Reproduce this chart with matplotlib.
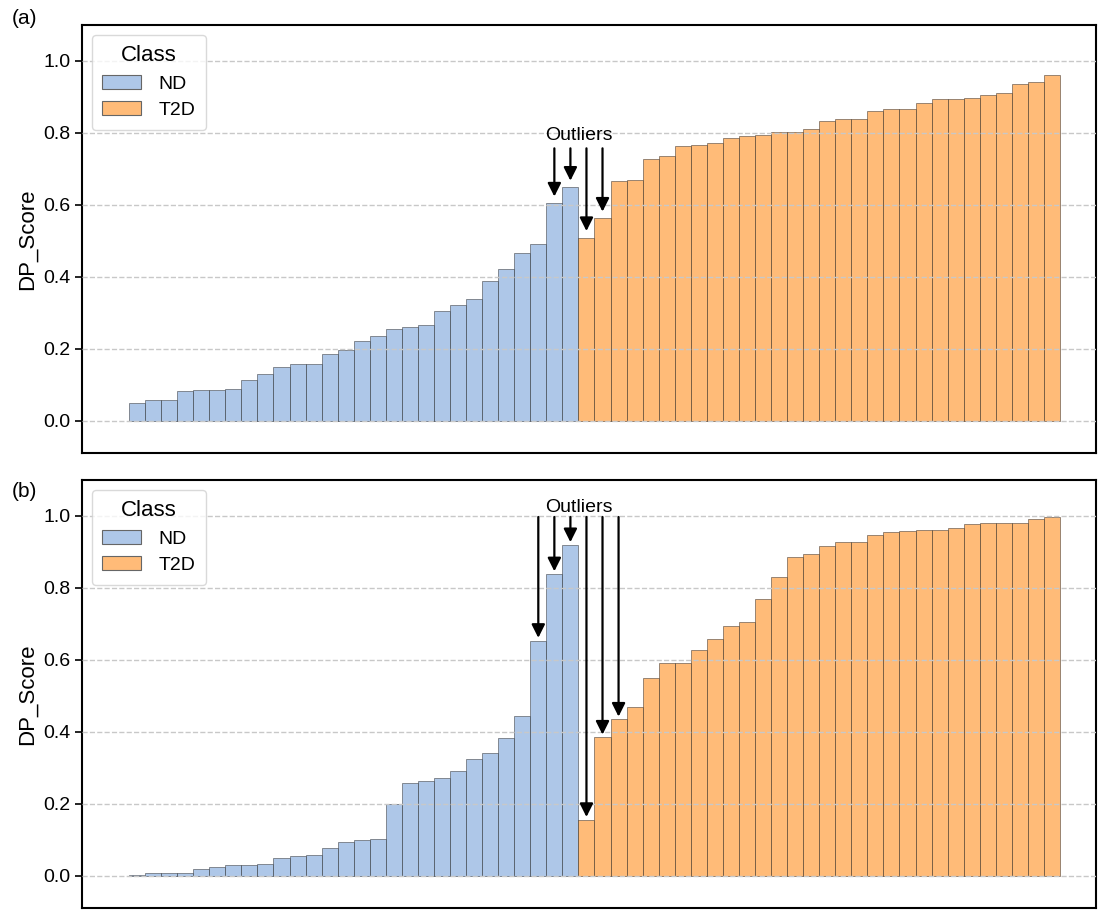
import numpy as np
import matplotlib
matplotlib.use("Agg")
import matplotlib.pyplot as plt
from matplotlib.patches import Patch

plt.rcParams["font.family"] = ["Liberation Sans", "DejaVu Sans"]

# sorted DP scores per class, panel (a)
nd_a = [0.049, 0.058, 0.058, 0.083, 0.085, 0.086, 0.088, 0.113, 0.130, 0.150,
        0.158, 0.158, 0.184, 0.195, 0.220, 0.236, 0.254, 0.260, 0.265, 0.306,
        0.322, 0.338, 0.389, 0.421, 0.467, 0.490, 0.605, 0.649]
t2d_a = [0.509, 0.563, 0.666, 0.669, 0.728, 0.735, 0.763, 0.766, 0.771, 0.786,
         0.790, 0.795, 0.801, 0.802, 0.810, 0.833, 0.838, 0.839, 0.862, 0.865,
         0.865, 0.883, 0.895, 0.895, 0.898, 0.905, 0.912, 0.936, 0.942, 0.962]

# panel (b)
nd_b = [0.002, 0.0075, 0.0075, 0.006, 0.019, 0.023, 0.029, 0.029, 0.033, 0.050,
        0.055, 0.058, 0.077, 0.093, 0.099, 0.102, 0.199, 0.258, 0.264, 0.272,
        0.292, 0.324, 0.341, 0.382, 0.443, 0.653, 0.838, 0.919]
t2d_b = [0.155, 0.384, 0.434, 0.470, 0.550, 0.590, 0.592, 0.626, 0.659, 0.694,
         0.704, 0.770, 0.830, 0.886, 0.893, 0.917, 0.928, 0.928, 0.946, 0.955,
         0.959, 0.962, 0.962, 0.967, 0.977, 0.980, 0.980, 0.981, 0.991, 0.996]

# indices of flagged samples (position in the combined sorted order)
outliers_a = [26, 27, 28, 29]
outliers_b = [25, 26, 27, 28, 29, 30]

classes = ["ND", "T2D"]
colors = {"ND": "#aec7e8", "T2D": "#ffbb78"}


def draw_panel(ax, nd, t2d, outliers, arrow_top, tip_gap, text_y):
    scores = np.array(nd + t2d)
    labels = ["ND"] * len(nd) + ["T2D"] * len(t2d)
    x = np.arange(len(scores))
    ax.bar(x, scores, width=1.0, color=[colors[c] for c in labels],
           edgecolor=(0, 0, 0, 0.7), linewidth=0.4, zorder=1)

    for i in outliers:
        ax.annotate("", xy=(x[i], scores[i] + tip_gap), xytext=(x[i], arrow_top),
                    arrowprops=dict(arrowstyle="-|>", color="black", lw=1.6,
                                    mutation_scale=20, shrinkA=0, shrinkB=0))
    xc = (x[outliers[0]] + x[outliers[-1]]) / 2
    ax.text(xc, text_y, "Outliers", ha="center", va="bottom", fontsize=14)

    ax.set_xlim(-3.43, len(scores) + 1.74)
    ax.set_ylim(-0.09, 1.1)
    ax.set_yticks([0.0, 0.2, 0.4, 0.6, 0.8, 1.0])
    ax.set_xticks([])
    ax.tick_params(axis="y", labelsize=14, length=5, width=1.2)
    ax.set_ylabel("DP_Score", fontsize=16)
    ax.yaxis.grid(True, linestyle="--", color="#c8c8c8", lw=1.0)
    ax.set_axisbelow(False)
    for sp in ax.spines.values():
        sp.set_linewidth(1.5)

    handles = [Patch(facecolor=colors[c], edgecolor="0.4", linewidth=0.8) for c in classes]
    leg = ax.legend(handles, classes, title="Class", loc="upper left",
                    fontsize=14, title_fontsize=16, handlelength=2.0,
                    borderpad=0.55, labelspacing=0.45, handletextpad=0.9)
    leg.get_frame().set_edgecolor("#d0d0d0")


fig = plt.figure(figsize=(11.03, 9.14), dpi=100)
ax_a = fig.add_axes([0.0743, 0.5044, 0.9193, 0.4683])
ax_b = fig.add_axes([0.0743, 0.0066, 0.9193, 0.4683])

draw_panel(ax_a, nd_a, t2d_a, outliers_a, arrow_top=0.757, tip_gap=0.018, text_y=0.77)
draw_panel(ax_b, nd_b, t2d_b, outliers_b, arrow_top=0.997, tip_gap=0.008, text_y=1.0)

fig.text(0.011, 0.980, "(a)", fontsize=15, va="center")
fig.text(0.011, 0.462, "(b)", fontsize=15, va="center")

fig.savefig("out.png", dpi=100)
